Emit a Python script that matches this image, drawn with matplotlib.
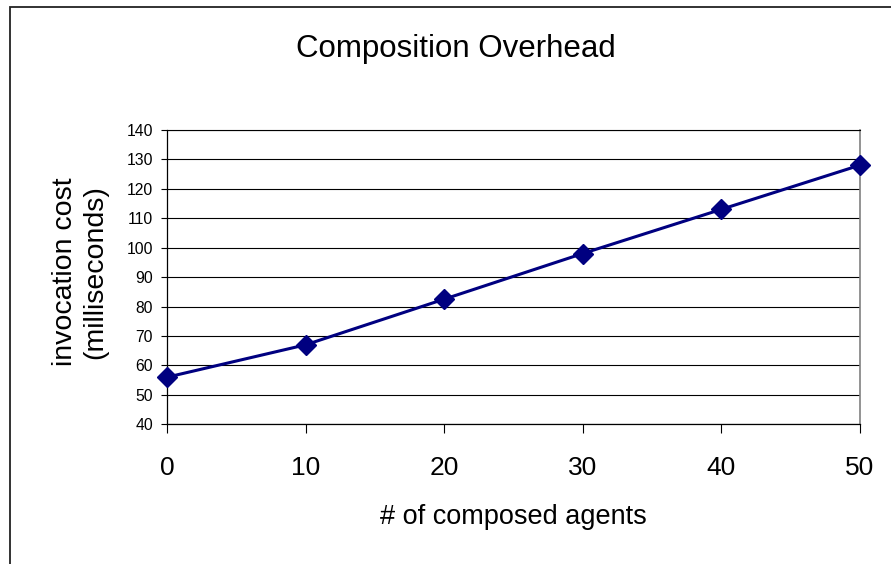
import matplotlib
matplotlib.use("Agg")
import matplotlib.pyplot as plt
from matplotlib.patches import Rectangle

# Invocation cost versus number of composed agents
agents = [0, 10, 20, 30, 40, 50]
cost_ms = [56, 67, 82.5, 98, 113, 128]
y_ticks = list(range(40, 141, 10))
x_ticks = [0, 10, 20, 30, 40, 50]

plt.rcParams["font.family"] = ["Liberation Sans", "DejaVu Sans"]

W, H = 891, 564
fig = plt.figure(figsize=(W / 100, H / 100), dpi=100)
fig.patch.set_facecolor("white")

# outer chart frame (left and top edges visible)
frame = Rectangle((10 / W, -0.2), 2.0, 1.2 - 7 / H, transform=fig.transFigure,
                  fill=False, edgecolor="#222222", linewidth=1.3, clip_on=False)
fig.patches.append(frame)

left, right = 167 / W, 859.5 / W
bottom, top = 1 - 424.3 / H, 1 - 130 / H
ax = fig.add_axes([left, bottom, right - left, top - bottom])

ax.set_xlim(x_ticks[0], x_ticks[-1])
ax.set_ylim(y_ticks[0], y_ticks[-1])
ax.set_yticks(y_ticks)
ax.set_xticks(x_ticks)

ax.yaxis.grid(True, color="black", linewidth=0.8)
ax.set_axisbelow(True)

ax.plot(agents, cost_ms, color="#000080", linewidth=2.2, marker="D",
        markersize=10, markerfacecolor="#000080", markeredgecolor="#000080",
        clip_on=False, zorder=3)

for s in ("left", "bottom"):
    ax.spines[s].set_color("black")
    ax.spines[s].set_linewidth(0.9)
ax.spines["top"].set_color("black")
ax.spines["top"].set_linewidth(0.8)
ax.spines["right"].set_color("#808080")
ax.spines["right"].set_linewidth(1.2)

ax.tick_params(axis="y", direction="out", length=4.5, width=0.8, pad=5.5,
               labelsize=11.3)
ax.tick_params(axis="x", direction="out", length=6.5, width=0.8, pad=16,
               labelsize=19)

ax.set_xlabel("# of composed agents", fontsize=19.5, va="baseline")
ax.xaxis.set_label_coords(0.5, (424.3 - 524) / (424.3 - 130))

ax.set_ylabel("invocation cost\n(milliseconds)", fontsize=20.5,
              va="center", ha="center", multialignment="center",
              linespacing=1.22)
ax.yaxis.set_label_coords((80 - 167) / (859.5 - 167), (424.3 - 272) / (424.3 - 130))

fig.text(456 / W, 1 - 57 / H, "Composition Overhead", fontsize=22.5,
         ha="center", va="baseline")

fig.savefig("out.png", dpi=100, facecolor="white")
